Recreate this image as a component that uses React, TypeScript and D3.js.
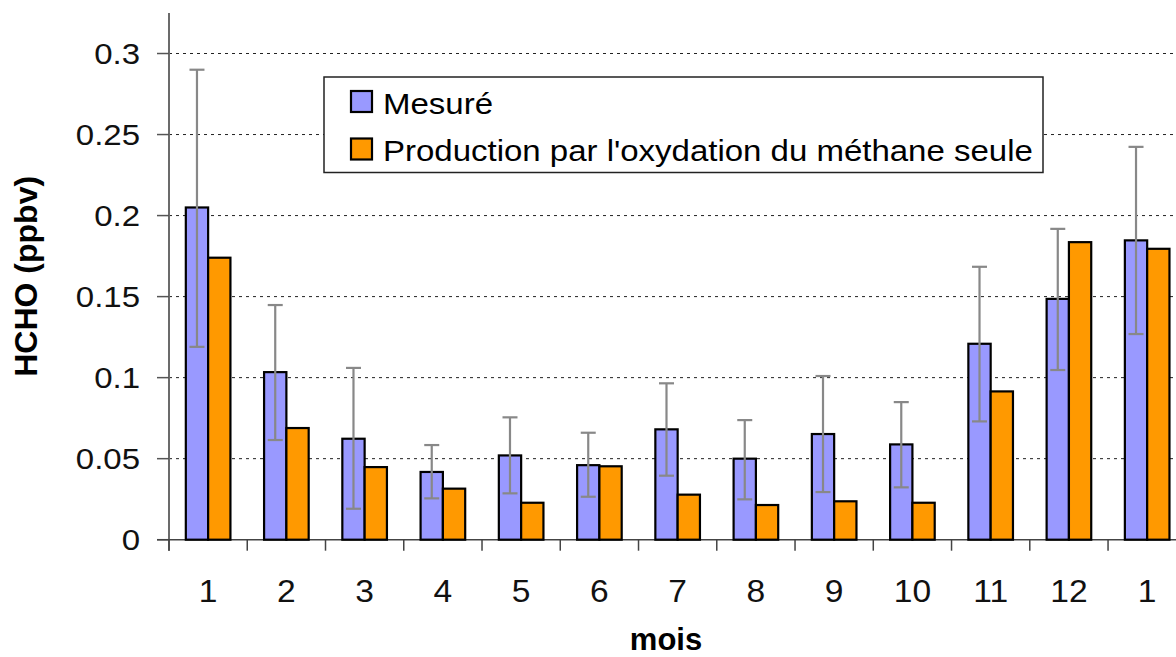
import React, { useEffect, useRef } from 'react';
import * as d3 from 'd3';

// months (Jan -> Jan)
const months = ['1', '2', '3', '4', '5', '6', '7', '8', '9', '10', '11', '12', '1'];
const measured = [0.205, 0.1034, 0.0623, 0.0418, 0.052, 0.046, 0.0681, 0.05, 0.0652, 0.0588, 0.1209, 0.1486, 0.1847];
const errHigh = [0.29, 0.1448, 0.106, 0.0584, 0.0755, 0.066, 0.0965, 0.0738, 0.101, 0.0849, 0.1684, 0.1918, 0.2424];
const errLow = [0.119, 0.0615, 0.0191, 0.0255, 0.0286, 0.0265, 0.0395, 0.0249, 0.0294, 0.0323, 0.073, 0.1047, 0.1269];
const methaneOnly = [0.174, 0.0689, 0.0448, 0.0315, 0.0228, 0.0453, 0.0278, 0.0214, 0.0237, 0.0228, 0.0915, 0.1836, 0.1795];
const seriesNames = ['Mesuré', "Production par l'oxydation du méthane seule"];
const yTicks = [0, 0.05, 0.1, 0.15, 0.2, 0.25, 0.3];

const COLORS = ['#9999ff', '#ff9900'];
const FONT = '"Liberation Sans", Arial, sans-serif';

const App: React.FC = () => {
  const ref = useRef<SVGSVGElement>(null);

  useEffect(() => {
    if (!ref.current) return;
    const svg = d3.select(ref.current);
    svg.selectAll('*').remove();

    const left = 169, right = 1186.3, top = 13, bottom = 539.7;

    const x = d3.scaleBand<number>()
      .domain(d3.range(months.length))
      .range([left, right])
      .paddingInner(0.43)
      .paddingOuter(0.215);

    const x1 = d3.scaleBand<number>()
      .domain([0, 1])
      .range([0, x.bandwidth()]);

    const y = d3.scaleLinear().domain([0, 0.325]).range([bottom, top]);

    svg.append('rect').attr('width', 1176).attr('height', 657).attr('fill', '#fff');

    // gridlines
    svg.append('g')
      .selectAll('line')
      .data(yTicks.filter(t => t > 0))
      .join('line')
      .attr('x1', left)
      .attr('x2', 1176)
      .attr('y1', d => y(d))
      .attr('y2', d => y(d))
      .attr('stroke', '#222')
      .attr('stroke-width', 1)
      .attr('stroke-dasharray', '3,4');

    // y axis
    svg.append('line')
      .attr('x1', left).attr('x2', left)
      .attr('y1', top).attr('y2', bottom + 11)
      .attr('stroke', '#6b6b6b').attr('stroke-width', 2);

    const yt = svg.append('g');
    yt.selectAll('line')
      .data(yTicks)
      .join('line')
      .attr('x1', left - 12).attr('x2', left)
      .attr('y1', d => y(d)).attr('y2', d => y(d))
      .attr('stroke', '#555').attr('stroke-width', 1.5);
    yt.selectAll('text')
      .data(yTicks)
      .join('text')
      .attr('transform', d => `translate(140,${y(d) + 10.7}) scale(1.1,1)`)
      .attr('text-anchor', 'end')
      .attr('font-family', FONT)
      .attr('font-size', 30)
      .attr('fill', '#111')
      .text(d => String(d));

    // x axis
    svg.append('line')
      .attr('x1', left - 12).attr('x2', 1176)
      .attr('y1', bottom).attr('y2', bottom)
      .attr('stroke', '#444').attr('stroke-width', 1.5);

    const step = x.step();
    svg.append('g')
      .selectAll('line')
      .data(d3.range(months.length + 1))
      .join('line')
      .attr('x1', i => left + i * step)
      .attr('x2', i => left + i * step)
      .attr('y1', bottom).attr('y2', bottom + 11)
      .attr('stroke', '#444').attr('stroke-width', 1.5);

    svg.append('g')
      .selectAll('text')
      .data(months)
      .join('text')
      .attr('transform', (d, i) => `translate(${(x(i) || 0) + x.bandwidth() / 2},602) scale(1.05,1)`)
      .attr('text-anchor', 'middle')
      .attr('font-family', FONT)
      .attr('font-size', 32)
      .attr('fill', '#111')
      .text(d => d);

    // bars
    const series = [measured, methaneOnly];
    series.forEach((vals, s) => {
      svg.append('g')
        .selectAll('rect')
        .data(vals)
        .join('rect')
        .attr('x', (d, i) => (x(i) || 0) + (x1(s) || 0))
        .attr('y', d => y(d))
        .attr('width', x1.bandwidth())
        .attr('height', d => bottom - y(d))
        .attr('fill', COLORS[s])
        .attr('stroke', '#000')
        .attr('stroke-width', 2.2);
    });

    // error bars on measured
    const eg = svg.append('g').attr('stroke', '#888').attr('stroke-width', 2.2);
    measured.forEach((v, i) => {
      const cx = (x(i) || 0) + (x1(0) || 0) + x1.bandwidth() / 2;
      eg.append('line').attr('x1', cx).attr('x2', cx).attr('y1', y(errHigh[i])).attr('y2', y(errLow[i]));
      eg.append('line').attr('x1', cx - 7.5).attr('x2', cx + 7.5).attr('y1', y(errHigh[i])).attr('y2', y(errHigh[i]));
      eg.append('line').attr('x1', cx - 7.5).attr('x2', cx + 7.5).attr('y1', y(errLow[i])).attr('y2', y(errLow[i]));
    });

    // legend
    const lg = svg.append('g');
    lg.append('rect')
      .attr('x', 324).attr('y', 77)
      .attr('width', 719).attr('height', 95.5)
      .attr('fill', '#fff').attr('stroke', '#222').attr('stroke-width', 1.5);
    seriesNames.forEach((name, s) => {
      const yy = 91 + s * 47.5;
      lg.append('rect')
        .attr('x', 351).attr('y', yy)
        .attr('width', 21).attr('height', 21)
        .attr('fill', COLORS[s]).attr('stroke', '#000').attr('stroke-width', 2.2);
      lg.append('text')
        .attr('transform', `translate(383,${yy + 22.5}) scale(1.1,1)`)
        .attr('font-family', FONT)
        .attr('font-size', 30)
        .attr('fill', '#000')
        .text(name);
    });

    // axis titles
    svg.append('text')
      .attr('x', 666).attr('y', 650)
      .attr('text-anchor', 'middle')
      .attr('font-family', FONT)
      .attr('font-weight', 'bold')
      .attr('font-size', 31)
      .attr('fill', '#000')
      .text('mois');

    svg.append('text')
      .attr('transform', `translate(36.5,${(top + bottom) / 2}) rotate(-90)`)
      .attr('text-anchor', 'middle')
      .attr('font-family', FONT)
      .attr('font-weight', 'bold')
      .attr('font-size', 32)
      .attr('fill', '#000')
      .text('HCHO (ppbv)');
  }, []);

  return (
    <svg
      ref={ref}
      width={1176}
      height={657}
      style={{ position: 'absolute', left: 0, top: 0, display: 'block' }}
    />
  );
};

export default App;
